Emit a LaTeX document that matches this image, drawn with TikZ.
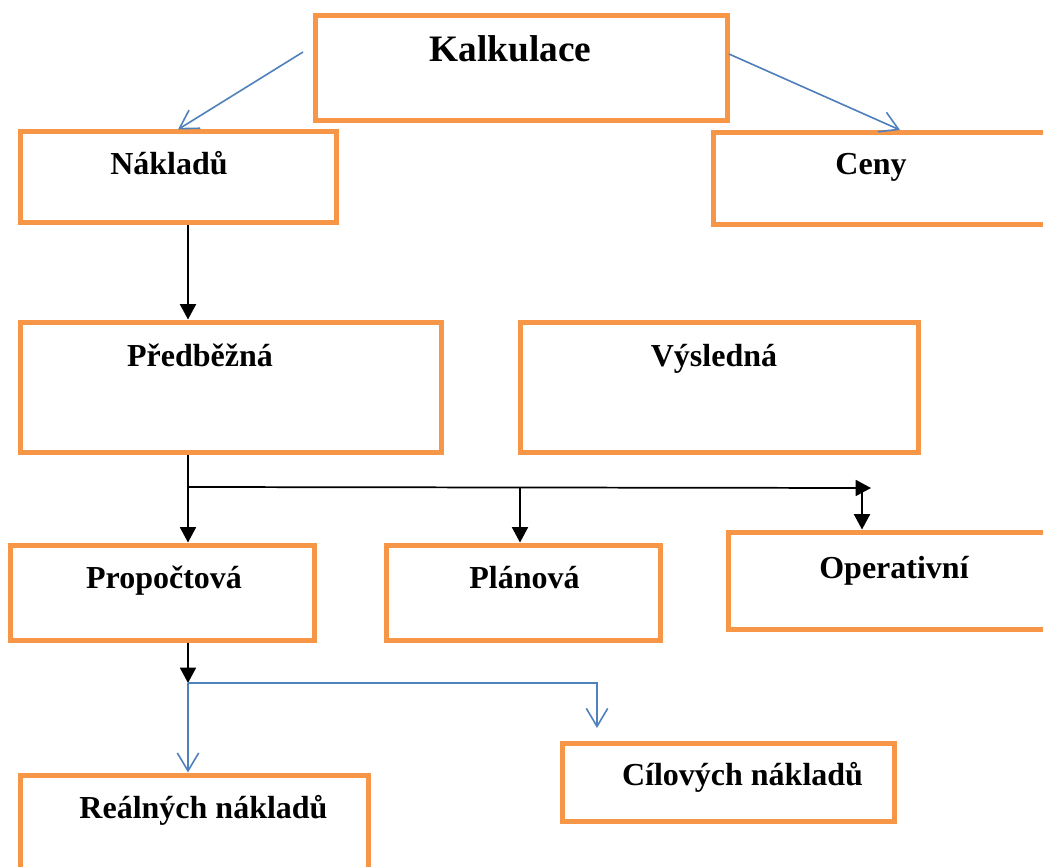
\documentclass[tikz,border=0pt]{standalone}
\usepackage{fontspec}
\setmainfont{Liberation Serif}
\usetikzlibrary{arrows.meta}
\definecolor{boxorange}{HTML}{F79646}
\definecolor{linkblue}{HTML}{4F81BD}
\begin{document}
\begin{tikzpicture}[x=0.75pt,y=-0.75pt,
  box/.style 2 args={draw=boxorange, line width=3.75pt, rectangle,
    minimum width=#1*0.75pt, minimum height=#2*0.75pt, inner sep=0pt},
  lbl/.style={anchor=base, inner sep=0pt, font=\bfseries\fontsize{24}{28}\selectfont},
  title/.style={anchor=base, inner sep=0pt, font=\bfseries\fontsize{28}{32}\selectfont},
  solidarrow/.style={draw=black, line width=1.3pt, -{Triangle[length=11.5pt,width=12pt]}},
  openarrow/.style={draw=linkblue, line width=1.2pt, -{Straight Barb[length=13.5pt,width=16pt]}},
]
\useasboundingbox (0,0) rectangle (1043,867);
\clip (0,0) rectangle (1043,867);
\fill[white] (0,0) rectangle (1043,867);

% boxes
\node[box={412}{105}]   (kalk) at (521,68.5) {};
\node[box={316}{90.5}]  (nakl) at (178,177.25) {};
\node[box={357}{91.5}]  (ceny) at (891.5,178.25) {};
\node[box={421}{130}]   (pred) at (230.5,387) {};
\node[box={398}{130}]   (vysl) at (719,387) {};
\node[box={304}{95}]    (prop) at (162,592.5) {};
\node[box={274}{95}]    (plan) at (523,592.5) {};
\node[box={342}{97}]    (oper) at (899,580.5) {};
\node[box={332}{78}]    (cil)  at (728,782) {};
\node[box={348}{125}]   (real) at (194,837.5) {};

% labels
\node[title] (tkalk) at (510.5,62) {Kalkulace};
\node[lbl] (tnakl) at (169,175) {Nákladů};
\node[lbl] (tceny) at (871,175) {Ceny};
\node[lbl] (tpred) at (200,366) {Předběžná};
\node[lbl] (tvysl) at (714,366) {Výsledná};
\node[lbl] (tprop) at (164,588) {Propočtová};
\node[lbl] (tplan) at (524.5,588) {Plánová};
\node[lbl] (toper) at (894,578) {Operativní};
\node[lbl] (tcil)  at (742.5,785) {Cílových nákladů};
\node[lbl] (treal) at (203.5,818) {Reálných nákladů};

% guide columns and junctions
\coordinate (colA) at (188,0);
\coordinate (colB) at (520,0);
\coordinate (colC) at (862,0);
\coordinate (kL) at (303,52);
\coordinate (kR) at (729,54);
\coordinate (cenyIn) at (900,130);
\coordinate (j1) at (188,487);
\coordinate (hEnd) at (871,488);
\coordinate (j2) at (188,683);
\coordinate (cilIn) at (597,728);

% top-level links
\draw[openarrow] (kL) -- (nakl.north);
\draw[openarrow] (kR) -- (cenyIn);

% cost calculation chain
\draw[solidarrow] (nakl.south -| colA) -- (pred.north -| colA);
\draw[solidarrow] (pred.south -| colA) -- (prop.north -| colA);
\draw[solidarrow] (j1) -- (hEnd);
\draw[solidarrow] (j1 -| colB) -- (plan.north -| colB);
\draw[solidarrow] (hEnd -| colC) -- (oper.north -| colC);
\draw[solidarrow] (prop.south -| colA) -- (j2);

% cost types
\draw[openarrow] (j2) -- (real.north -| colA);
\draw[openarrow] (j2) -| (cilIn);
\end{tikzpicture}
\end{document}
